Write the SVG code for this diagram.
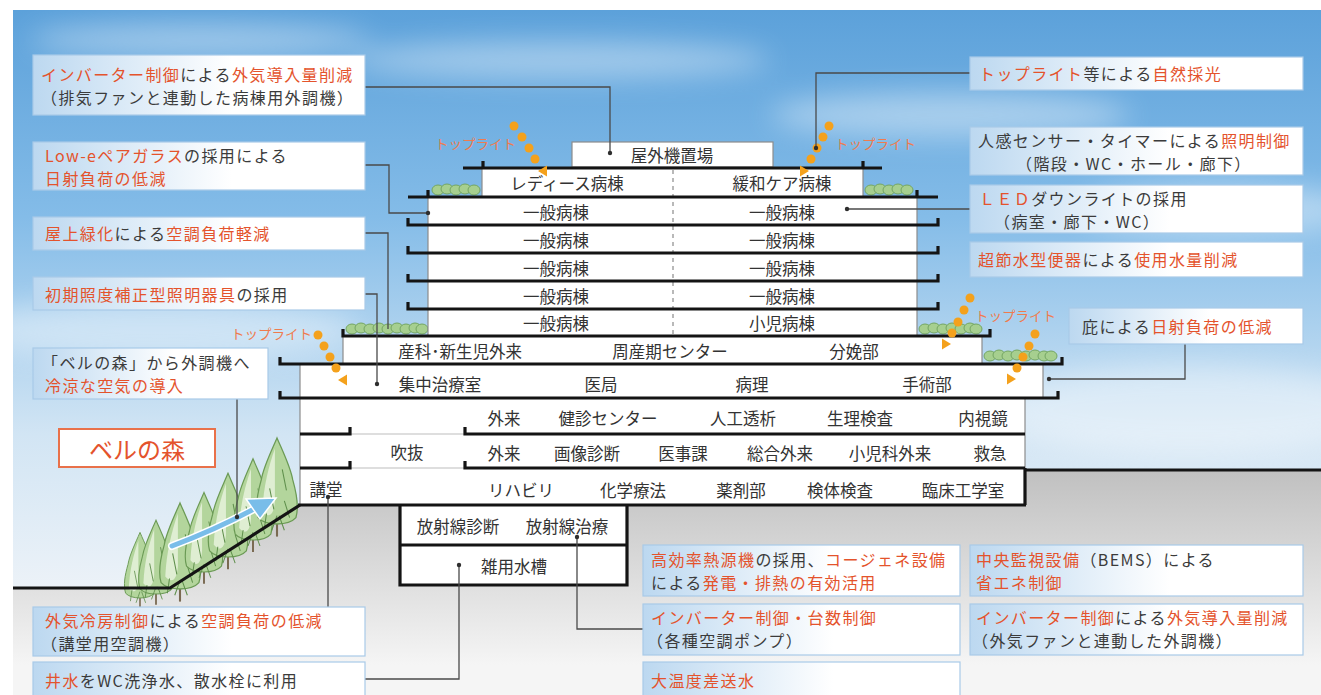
<svg xmlns="http://www.w3.org/2000/svg" width="1321" height="695" viewBox="0 0 1321 695">
<style>
  .jp{font-family:"Noto Sans CJK JP","Noto Sans",sans-serif}
  .nt{font-size:16px;letter-spacing:1.4px;fill:#3b3b3b;dominant-baseline:central}
  .r{fill:#e4532c}
  .bx{fill:url(#note);stroke:#a8cae8;stroke-width:1.2}
  .bt{font-size:16.5px;fill:#333;text-anchor:middle;dominant-baseline:central}
  .wall{fill:#fff;stroke:#8c8c8c;stroke-width:1.2}
  .slab{fill:none;stroke:#141414;stroke-width:3.2}
  .thin{fill:none;stroke:#bdbdbd;stroke-width:1.2}
  .conn{fill:none;stroke:#4a4a4a;stroke-width:1.3}
  .dot{fill:#2e2e2e}
  .tl{font-size:13.5px;fill:#ef7b4e;dominant-baseline:central}
  .sun{fill:#f4a11c}
  .bush ellipse{fill:#a6cf8f;stroke:#74a663;stroke-width:1}
</style>
<defs>
  <linearGradient id="sky" x1="0" y1="10" x2="0" y2="600" gradientUnits="userSpaceOnUse">
    <stop offset="0" stop-color="#5ca1da"/>
    <stop offset="0.35" stop-color="#84bce8"/>
    <stop offset="0.72" stop-color="#d2e5f4"/>
    <stop offset="1" stop-color="#eef3f8"/>
  </linearGradient>
  <linearGradient id="ground" x1="0" y1="470" x2="0" y2="665" gradientUnits="userSpaceOnUse">
    <stop offset="0" stop-color="#c0c0c0"/>
    <stop offset="1" stop-color="#f5f5f5"/>
  </linearGradient>
  <linearGradient id="note" x1="0" y1="0" x2="1" y2="0">
    <stop offset="0" stop-color="#bcd8f0"/>
    <stop offset="0.6" stop-color="#ffffff"/>
  </linearGradient>
  <filter id="soft" x="-50%" y="-150%" width="200%" height="400%">
    <feGaussianBlur stdDeviation="14"/>
  </filter>
  <g id="tree">
    <line x1="0" y1="-6" x2="0" y2="12" stroke="#7a6a52" stroke-width="2"/>
    <path d="M0,-82 C6,-68 13,-54 15,-42 C19,-28 21,-16 18,-6 C11,2 -11,2 -18,-6 C-21,-16 -19,-28 -15,-42 C-13,-54 -6,-68 0,-82Z" fill="#b3d59c" stroke="#6b9a55" stroke-width="1.2"/>
    <path d="M-2,-72 C-8,-55 -13,-35 -14,-12 C-8,-5 -3,-8 -2,-22Z" fill="#e6f2dc" opacity="0.85"/>
    <path d="M5,-52 L9,-32 M-7,-34 L-3,-14 M7,-22 L12,-6 M0,-8 L-5,6 M2,-8 L7,6 M-10,-10 L-12,4" stroke="#5f8f4c" stroke-width="1" fill="none"/>
  </g>
</defs>

<!-- sky and ground -->
<rect x="0" y="0" width="1321" height="695" fill="#fff"/>
<rect x="13" y="10" width="1308" height="685" fill="url(#sky)"/>
<g filter="url(#soft)" fill="#fff" opacity="0.4">
  <ellipse cx="200" cy="40" rx="170" ry="16"/>
  <ellipse cx="560" cy="60" rx="210" ry="18"/>
  <ellipse cx="950" cy="115" rx="180" ry="22"/>
  <ellipse cx="1220" cy="210" rx="140" ry="26"/>
  <ellipse cx="160" cy="330" rx="200" ry="30"/>
  <ellipse cx="1190" cy="410" rx="200" ry="45"/>
</g>
<polygon points="13,588 170,588 300,505 1025,505 1025,470 1321,470 1321,695 13,695" fill="url(#ground)"/>

<!-- trees on the slope -->
<g id="forest">
  <use href="#tree" transform="translate(140,598) scale(0.8)"/>
  <use href="#tree" transform="translate(156,594) scale(0.9)"/>
  <use href="#tree" transform="translate(180,589) scale(1.05)"/>
  <use href="#tree" transform="translate(204,572) scale(0.97)"/>
  <use href="#tree" transform="translate(228,557) scale(1.02)"/>
  <use href="#tree" transform="translate(253,540) scale(0.99)"/>
  <use href="#tree" transform="translate(277,524) scale(1.05)"/>
  <path d="M172,546 Q215,530 256,508" fill="none" stroke="#fff" stroke-width="8" stroke-linecap="round"/>
  <path d="M172,546 Q215,530 256,508" fill="none" stroke="#79bde9" stroke-width="5" stroke-linecap="round"/>
  <polygon points="276,498 246,499 260,519" fill="#79bde9" stroke="#fff" stroke-width="1.5"/>
</g>

<!-- roof planting -->
<g class="bush" id="bushes">
  <ellipse cx="438" cy="190" rx="6" ry="5"/><ellipse cx="447" cy="189" rx="6" ry="5"/><ellipse cx="456" cy="190" rx="6" ry="5"/><ellipse cx="465" cy="189" rx="6" ry="5"/><ellipse cx="474" cy="190" rx="6" ry="5"/>
  <ellipse cx="871" cy="190" rx="6" ry="5"/><ellipse cx="880" cy="189" rx="6" ry="5"/><ellipse cx="889" cy="190" rx="6" ry="5"/><ellipse cx="898" cy="189" rx="6" ry="5"/><ellipse cx="907" cy="190" rx="6" ry="5"/>
  <ellipse cx="352" cy="329" rx="6" ry="5"/><ellipse cx="361" cy="328" rx="6" ry="5"/><ellipse cx="370" cy="329" rx="6" ry="5"/><ellipse cx="379" cy="328" rx="6" ry="5"/><ellipse cx="388" cy="329" rx="6" ry="5"/><ellipse cx="397" cy="328" rx="6" ry="5"/><ellipse cx="406" cy="329" rx="6" ry="5"/><ellipse cx="415" cy="328" rx="6" ry="5"/><ellipse cx="422" cy="329" rx="6" ry="5"/>
  <ellipse cx="925" cy="329" rx="6" ry="5"/><ellipse cx="934" cy="328" rx="6" ry="5"/><ellipse cx="943" cy="329" rx="6" ry="5"/><ellipse cx="952" cy="328" rx="6" ry="5"/><ellipse cx="961" cy="329" rx="6" ry="5"/><ellipse cx="970" cy="328" rx="6" ry="5"/><ellipse cx="976" cy="329" rx="6" ry="5"/>
  <ellipse cx="990" cy="356" rx="6" ry="5"/><ellipse cx="999" cy="355" rx="6" ry="5"/><ellipse cx="1008" cy="356" rx="6" ry="5"/><ellipse cx="1017" cy="355" rx="6" ry="5"/><ellipse cx="1026" cy="356" rx="6" ry="5"/><ellipse cx="1035" cy="355" rx="6" ry="5"/><ellipse cx="1044" cy="356" rx="6" ry="5"/><ellipse cx="1051" cy="356" rx="6" ry="5"/>
</g>

<!-- building -->
<g id="building">
  <rect class="wall" x="572" y="142" width="201" height="25" stroke="#444" stroke-width="1.5"/>
  <rect class="wall" x="482" y="168" width="381" height="29"/>
  <rect class="wall" x="428" y="197" width="489" height="139"/>
  <rect class="wall" x="343" y="336" width="639" height="28"/>
  <rect class="wall" x="300" y="364" width="743" height="34"/>
  <rect class="wall" x="300" y="398" width="725" height="107"/>
  <rect class="wall" x="400" y="505" width="227" height="80"/>
  <path d="M673,170 V336" stroke="#a8a8a8" stroke-width="1.6" stroke-dasharray="4 4"/>
  <path class="thin" d="M350,434 H465 M350,468 H465"/>
  <path class="slab" d="M463,168 H882 M483,161 V168 M863,161 V168"/>
  <path class="slab" d="M408,197 H938 M428,190 V197 M917,190 V197"/>
  <path class="slab" d="M408,218 V225 H938 V218 M408,246 V253 H938 V246 M408,274 V281 H938 V274 M408,302 V309 H938 V302"/>
  <path class="slab" d="M343,329 V336 H990 V329"/>
  <path class="slab" d="M280,357 V364 H1062 V357"/>
  <path class="slab" d="M280,391 V398 H1058 V391"/>
  <path class="slab" d="M300,434 H350 V427 M465,427 V434 H1025"/>
  <path class="slab" d="M300,468 H350 V461 M465,461 V468 H1025 M1025,470 H1321 M1025,468 V505"/>
  <path class="slab" d="M298,505 H1026 M400,505 V585 H627 V505 M400,545 H627"/>
  <path class="slab" d="M13,588 H170 L300,505"/>

  <g class="jp bt">
    <text x="672" y="155">屋外機置場</text>
    <text x="567" y="183">レディース病棟</text>
    <text x="782" y="183">緩和ケア病棟</text>
    <text x="556" y="212">一般病棟</text><text x="782" y="212">一般病棟</text>
    <text x="556" y="240">一般病棟</text><text x="782" y="240">一般病棟</text>
    <text x="556" y="268">一般病棟</text><text x="782" y="268">一般病棟</text>
    <text x="556" y="296">一般病棟</text><text x="782" y="296">一般病棟</text>
    <text x="556" y="323">一般病棟</text><text x="782" y="323">小児病棟</text>
    <text x="460" y="351">産科･新生児外来</text>
    <text x="670" y="351">周産期センター</text>
    <text x="854" y="351">分娩部</text>
    <text x="440" y="384">集中治療室</text>
    <text x="601" y="384">医局</text>
    <text x="752" y="384">病理</text>
    <text x="927" y="384">手術部</text>
    <text x="504" y="418">外来</text>
    <text x="608" y="418">健診センター</text>
    <text x="743" y="418">人工透析</text>
    <text x="860" y="418">生理検査</text>
    <text x="983" y="418">内視鏡</text>
    <text x="407" y="452">吹抜</text>
    <text x="504" y="453">外来</text>
    <text x="587" y="453">画像診断</text>
    <text x="683" y="453">医事課</text>
    <text x="780" y="453">総合外来</text>
    <text x="890" y="453">小児科外来</text>
    <text x="990" y="453">救急</text>
    <text x="326" y="489">講堂</text>
    <text x="521" y="490">リハビリ</text>
    <text x="633" y="490">化学療法</text>
    <text x="741" y="490">薬剤部</text>
    <text x="840" y="490">検体検査</text>
    <text x="963" y="490">臨床工学室</text>
    <text x="458" y="526">放射線診断</text>
    <text x="567" y="526">放射線治療</text>
    <text x="514" y="566">雑用水槽</text>
  </g>
</g>

<!-- toplights -->
<g id="toplights">
  <g class="jp tl">
    <text x="435" y="143">トップライト</text>
    <text x="835" y="143">トップライト</text>
    <text x="312" y="333" text-anchor="end">トップライト</text>
    <text x="975" y="315">トップライト</text>
  </g>
  <g class="sun">
    <circle cx="514" cy="126" r="4.5"/><circle cx="522" cy="137" r="4.5"/><circle cx="529" cy="148" r="4.5"/><circle cx="535" cy="159" r="4.5"/>
    <polygon points="538,171 547,165.5 547,176.5"/>
    <circle cx="829" cy="126" r="4.5"/><circle cx="823" cy="137" r="4.5"/><circle cx="817" cy="148" r="4.5"/><circle cx="811" cy="159" r="4.5"/>
    <polygon points="809,171 800,165.5 800,176.5"/>
    <circle cx="318" cy="335" r="4.5"/><circle cx="324" cy="346" r="4.5"/><circle cx="330" cy="357" r="4.5"/><circle cx="336" cy="368" r="4.5"/>
    <polygon points="338,380 347,374.5 347,385.5"/>
    <circle cx="970" cy="298" r="4.5"/><circle cx="964" cy="310" r="4.5"/><circle cx="958" cy="322" r="4.5"/><circle cx="952" cy="333" r="4.5"/>
    <polygon points="951,344 942,338.5 942,349.5"/>
    <circle cx="1035" cy="334" r="4.5"/><circle cx="1029" cy="346" r="4.5"/><circle cx="1023" cy="357" r="4.5"/><circle cx="1017" cy="368" r="4.5"/>
    <polygon points="1016,379 1007,373.5 1007,384.5"/>
  </g>
</g>

<!-- leader lines -->
<g id="connectors">
  <path class="conn" d="M365,87 H610 V153"/>
  <path class="conn" d="M365,165 H389 V213 H428"/>
  <path class="conn" d="M365,233 H388 V329"/>
  <path class="conn" d="M365,294 H377 V384"/>
  <path class="conn" d="M970,73 H816 V148"/>
  <path class="conn" d="M970,209 H847"/>
  <path class="conn" d="M1185,344 V379 H1049"/>
  <path class="conn" d="M237,399 V517"/>
  <path class="conn" d="M328,497 V607"/>
  <path class="conn" d="M365,679 H459 V565"/>
  <path class="conn" d="M643,629 H577 V537"/>
  <g class="dot">
    <circle cx="610" cy="153" r="2.2"/><circle cx="428" cy="213" r="2.2"/><circle cx="377" cy="384" r="2.2"/>
    <circle cx="816" cy="148" r="2.2"/><circle cx="847" cy="209" r="2.2"/><circle cx="1049" cy="379" r="2.2"/>
    <circle cx="237" cy="517" r="2.2"/><circle cx="328" cy="497" r="2.2"/><circle cx="459" cy="565" r="2.2"/>
    <circle cx="577" cy="537" r="2.2"/>
  </g>
</g>

<!-- notes, left column -->
<g id="note-outside-air-ward" class="jp nt">
  <rect class="bx" x="33" y="55" width="332" height="60"/>
  <text x="41" y="74"><tspan class="r">インバーター制御</tspan>による<tspan class="r">外気導入量削減</tspan></text>
  <text x="41" y="97">（排気ファンと連動した病棟用外調機）</text>
</g>
<g id="note-lowe" class="jp nt">
  <rect class="bx" x="33" y="142" width="332" height="48"/>
  <text x="45" y="154.5"><tspan class="r">Low-eペアガラス</tspan>の採用による</text>
  <text x="45" y="177.5" class="r">日射負荷の低減</text>
</g>
<g id="note-roof-green" class="jp nt">
  <rect class="bx" x="33" y="217" width="332" height="33"/>
  <text x="45" y="233"><tspan class="r">屋上緑化</tspan>による<tspan class="r">空調負荷軽減</tspan></text>
</g>
<g id="note-lighting" class="jp nt">
  <rect class="bx" x="33" y="277" width="332" height="33"/>
  <text x="45" y="294"><tspan class="r">初期照度補正型照明器具</tspan>の採用</text>
</g>
<g id="note-forest-air" class="jp nt">
  <rect class="bx" x="33" y="348" width="235" height="51"/>
  <text x="42" y="362">「ベルの森」から外調機へ</text>
  <text x="45" y="385" class="r">冷涼な空気の導入</text>
</g>
<g id="label-forest" class="jp">
  <rect x="59" y="429" width="156" height="38" fill="#fff" stroke="#e9714a" stroke-width="2"/>
  <text x="137" y="448" font-size="24" fill="#e4532c" text-anchor="middle" dominant-baseline="central">ベルの森</text>
</g>
<g id="note-auditorium" class="jp nt">
  <rect class="bx" x="33" y="607" width="332" height="49"/>
  <text x="45" y="620"><tspan class="r">外気冷房制御</tspan>による<tspan class="r">空調負荷の低減</tspan></text>
  <text x="41" y="643">（講堂用空調機）</text>
</g>
<g id="note-well-water" class="jp nt">
  <rect class="bx" x="33" y="662" width="332" height="40"/>
  <text x="45" y="680"><tspan class="r">井水</tspan>をWC洗浄水、散水栓に利用</text>
</g>

<!-- notes, right column -->
<g id="note-toplight" class="jp nt">
  <rect class="bx" x="970" y="57" width="333" height="33"/>
  <text x="979" y="73"><tspan class="r">トップライト</tspan>等による<tspan class="r">自然採光</tspan></text>
</g>
<g id="note-sensor" class="jp nt">
  <rect class="bx" x="970" y="127" width="333" height="48"/>
  <text x="978" y="140">人感センサー・タイマーによる<tspan class="r">照明制御</tspan></text>
  <text x="1016" y="163">（階段・WC・ホール・廊下）</text>
</g>
<g id="note-led" class="jp nt">
  <rect class="bx" x="970" y="185" width="333" height="48"/>
  <text x="979" y="198"><tspan class="r">ＬＥＤ</tspan>ダウンライトの採用</text>
  <text x="994" y="221">（病室・廊下・WC）</text>
</g>
<g id="note-toilet" class="jp nt">
  <rect class="bx" x="970" y="242" width="333" height="35"/>
  <text x="978" y="259"><tspan class="r">超節水型便器</tspan>による<tspan class="r">使用水量削減</tspan></text>
</g>
<g id="note-eaves" class="jp nt">
  <rect class="bx" x="1069" y="308" width="234" height="36"/>
  <text x="1082" y="326">庇による<tspan class="r">日射負荷の低減</tspan></text>
</g>

<!-- notes, bottom -->
<g id="note-heat-source" class="jp nt">
  <rect class="bx" x="643" y="545" width="317" height="51"/>
  <text x="651" y="559"><tspan class="r">高効率熱源機</tspan>の採用、<tspan class="r">コージェネ設備</tspan></text>
  <text x="651" y="582">による<tspan class="r">発電・排熱の有効活用</tspan></text>
</g>
<g id="note-pumps" class="jp nt">
  <rect class="bx" x="643" y="604" width="317" height="51"/>
  <text x="651" y="617" class="r">インバーター制御・台数制御</text>
  <text x="647" y="640">（各種空調ポンプ）</text>
</g>
<g id="note-delta-t" class="jp nt">
  <rect class="bx" x="643" y="662" width="317" height="40"/>
  <text x="651" y="680" class="r">大温度差送水</text>
</g>
<g id="note-bems" class="jp nt">
  <rect class="bx" x="970" y="545" width="333" height="51"/>
  <text x="976" y="559"><tspan class="r">中央監視設備</tspan>（BEMS）による</text>
  <text x="976" y="582" class="r">省エネ制御</text>
</g>
<g id="note-outside-air" class="jp nt">
  <rect class="bx" x="970" y="604" width="333" height="51"/>
  <text x="976" y="617"><tspan class="r">インバーター制御</tspan>による<tspan class="r">外気導入量削減</tspan></text>
  <text x="972" y="640">（外気ファンと連動した外調機）</text>
</g>
</svg>
